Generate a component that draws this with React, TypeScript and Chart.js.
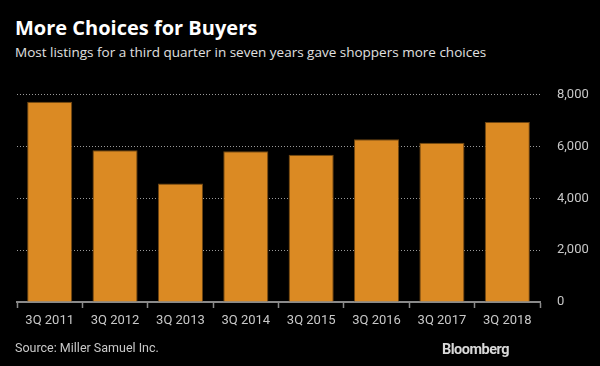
import React, { useEffect, useRef } from "react";
import { Chart, registerables } from "chart.js";

Chart.register(...registerables);

const categories = ["3Q 2011", "3Q 2012", "3Q 2013", "3Q 2014", "3Q 2015", "3Q 2016", "3Q 2017", "3Q 2018"];
const listings = [7730, 5860, 4575, 5825, 5690, 6285, 6145, 6950];
const yTicks = [0, 2000, 4000, 6000, 8000];

const FONT = "Roboto, 'Open Sans', sans-serif";
const TITLE_FONT = "'Open Sans', Roboto, sans-serif";

export default function App() {
  const ref = useRef<HTMLCanvasElement | null>(null);

  useEffect(() => {
    document.body.style.margin = "0";
    document.body.style.background = "#000";
    const ctx = ref.current!;
    const chart = new Chart(ctx, {
      type: "bar",
      data: {
        labels: categories,
        datasets: [
          {
            data: listings,
            backgroundColor: "#DB8A23",
            borderColor: "#6e4512",
            borderWidth: 1,
            categoryPercentage: 1,
            barPercentage: 0.69,
          },
        ],
      },
      options: {
        responsive: false,
        animation: false,
        maintainAspectRatio: false,
        layout: { padding: { left: 17, top: 23, right: 0, bottom: 0 } },
        plugins: { legend: { display: false }, tooltip: { enabled: false } },
        scales: {
          x: {
            grid: {
              display: true,
              drawOnChartArea: false,
              drawTicks: true,
              tickLength: 6,
              tickColor: "#8a8a8a",
              tickWidth: 1.5,
            },
            border: { display: true, color: "#8a8a8a", width: 2 },
            ticks: { color: "#c8c8c8", font: { family: FONT, size: 13 }, padding: 5, maxRotation: 0 },
            afterFit: (s: any) => {
              s.height = 38;
            },
          },
          y: {
            position: "right",
            min: 0,
            max: 8000,
            afterBuildTicks: (s: any) => {
              s.ticks = yTicks.map((v) => ({ value: v }));
            },
            grid: {
              color: "#9a9a9a",
              lineWidth: 1,
              drawTicks: false,
            },
            border: { display: false, dash: [1, 2] },
            ticks: {
              color: "#c8c8c8",
              font: { family: FONT, size: 13 },
              padding: 17,
              callback: (v: any) => Number(v).toLocaleString("en-US"),
            },
            afterFit: (s: any) => {
              s.width = 60;
            },
          },
        },
      },
    });
    return () => chart.destroy();
  }, []);

  return (
    <div
      style={{
        position: "fixed",
        left: 0,
        top: 0,
        width: 600,
        height: 366,
        background: "#000",
        overflow: "hidden",
        fontFamily: FONT,
      }}
    >
      <div
        style={{
          position: "absolute",
          left: 15,
          top: 14,
          color: "#fff",
          fontFamily: TITLE_FONT,
          fontWeight: 700,
          fontSize: 20,
          lineHeight: "28px",
          whiteSpace: "nowrap",
        }}
      >
        More Choices for Buyers
      </div>
      <div
        style={{
          position: "absolute",
          left: 15,
          top: 43,
          color: "#e0e0e0",
          fontFamily: TITLE_FONT,
          fontSize: 13.5,
          lineHeight: "18px",
          whiteSpace: "nowrap",
        }}
      >
        Most listings for a third quarter in seven years gave shoppers more choices
      </div>
      <canvas
        ref={ref}
        width={600}
        height={270}
        style={{ position: "absolute", left: 0, top: 70, width: 600, height: 270 }}
      />
      <div
        style={{
          position: "absolute",
          left: 15,
          top: 339,
          color: "#c8c8c8",
          fontSize: 12.5,
          lineHeight: "18px",
          whiteSpace: "nowrap",
        }}
      >
        Source: Miller Samuel Inc.
      </div>
      <div
        style={{
          position: "absolute",
          right: 91,
          top: 340,
          color: "#d8d8d8",
          fontWeight: 700,
          fontSize: 14.5,
          lineHeight: "20px",
          letterSpacing: -0.5,
          whiteSpace: "nowrap",
        }}
      >
        Bloomberg
      </div>
    </div>
  );
}
